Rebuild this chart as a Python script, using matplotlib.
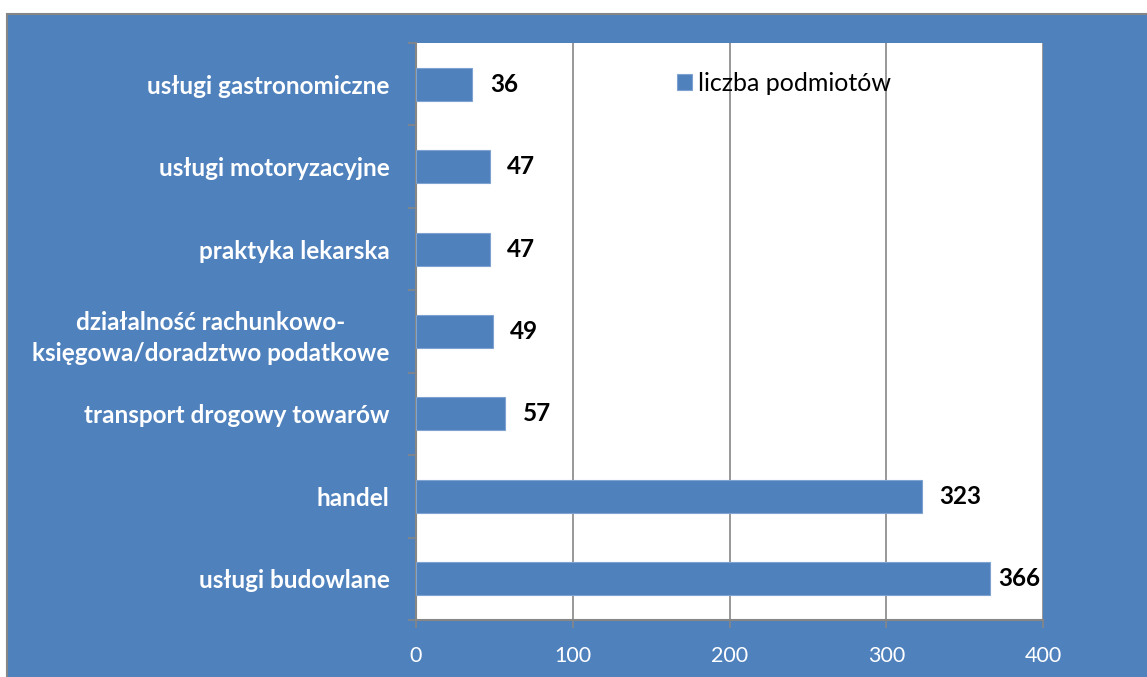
import matplotlib
matplotlib.use("Agg")
import matplotlib.pyplot as plt
from matplotlib.patches import Rectangle
import numpy as np

categories = ["usługi budowlane", "handel", "transport drogowy towarów",
              "działalność rachunkowo-\nksięgowa/doradztwo podatkowe",
              "praktyka lekarska", "usługi motoryzacyjne", "usługi gastronomiczne"]
values = [366, 323, 57, 49, 47, 47, 36]
xticks = [0, 100, 200, 300, 400]
series_name = "liczba podmiotów"

BLUE = "#4F81BD"
GRAY = "#868686"
FONT = ["Lato", "DejaVu Sans"]
plt.rcParams['font.family'] = FONT

fig = plt.figure(figsize=(11.47, 6.77), dpi=100, facecolor="white")
W, H = 1147, 677
fig.patches.append(Rectangle((7 / W, -0.01), 1 - 7 / W + 0.01, 1 - 14 / H + 0.01,
                             transform=fig.transFigure, facecolor=BLUE,
                             edgecolor=GRAY, linewidth=1.5, zorder=-10))

ax = fig.add_axes([416 / W, 1 - 620 / H, (1043 - 416) / W, (620 - 43) / H])
ax.set_zorder(5)
ax.set_facecolor("white")
y = np.arange(len(categories))
bars = ax.barh(y, values, height=0.4, color=BLUE, edgecolor="#7FA3D1",
               linewidth=0.8, label=series_name, zorder=3)
ax.set_xlim(0, 400)
ax.set_ylim(-0.5, len(categories) - 0.5)

ax.set_xticks(xticks)
ax.set_xticklabels([str(t) for t in xticks], color="white", fontsize=15.5)
ax.tick_params(axis="x", length=6, width=1.2, color=GRAY, direction="out", pad=13)
ax.xaxis.grid(True, color=GRAY, linewidth=1.2, zorder=0)
ax.set_axisbelow(True)

ax.set_yticks(np.arange(-0.5, len(categories), 1.0))
ax.set_yticklabels([])
ax.set_yticks(y, minor=True)
ax.set_yticklabels(categories, minor=True, color="white", fontsize=17.5,
                   fontweight="bold", ha="right", linespacing=1.45,
                   multialignment="center")
ax.tick_params(axis="y", which="major", length=6, width=1.2, color=GRAY, direction="out")
ax.tick_params(axis="y", which="minor", length=0, pad=19)

for s in ["top", "right"]:
    ax.spines[s].set_visible(False)
for s in ["left", "bottom"]:
    ax.spines[s].set_color(GRAY)
    ax.spines[s].set_linewidth(1.5)

for yi, v in zip(y, values):
    off = 12.5 if v < 350 else 6
    ax.annotate(str(v), xy=(v, yi), xytext=(off, 0), textcoords="offset points",
                ha="left", va="center", fontsize=17.5, fontweight="bold",
                color="black", zorder=5)

leg = ax.legend(loc="upper left", bbox_to_anchor=((677 - 416) / (1043 - 416), 1 - (72 - 43) / (620 - 43)),
                frameon=False, fontsize=18, handlelength=0.6, handleheight=0.6,
                handletextpad=0.25, borderaxespad=0, borderpad=0)

fig.savefig("out.png", dpi=100, facecolor=fig.get_facecolor())
